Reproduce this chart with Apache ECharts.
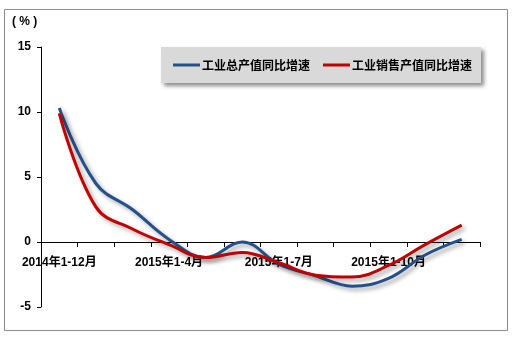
<!DOCTYPE html>
<html>
<head>
<meta charset="utf-8">
<script src="https://cdn.jsdelivr.net/npm/echarts@6/dist/echarts.min.js"></script>
<style>
  html, body { margin: 0; padding: 0; background: #fff; }
  #chart { width: 515px; height: 337px; }
</style>
</head>
<body>
<div id="chart"></div>
<script>
// Year-to-date periods
var categories = ['2014年1-12月', '2015年1-2月', '2015年1-3月', '2015年1-4月', '2015年1-5月', '2015年1-6月',
                  '2015年1-7月', '2015年1-8月', '2015年1-9月', '2015年1-10月', '2015年1-11月', '2015年1-12月'];
// Year-on-year growth, %
var grossOutput = [10.3, 4.5, 2.5, 0.2, -1.2, 0.0, -1.7, -2.6, -3.4, -2.8, -1.0, 0.2];
var salesOutput = [9.9, 2.7, 1.0, -0.2, -1.2, -0.8, -1.6, -2.55, -2.7, -1.8, -0.2, 1.3];
var seriesNames = ['工业总产值同比增速', '工业销售产值同比增速'];
var yTicks = { min: -5, max: 15, interval: 5 };

var font = '"Liberation Sans", Arial, "Noto Sans CJK SC", sans-serif';
var gridTop = 47, gridBottom = 30, chartHeight = 337;
// distance of the zero line above the bottom edge of the plot area
var plotHeight = chartHeight - gridTop - gridBottom;
var zeroFromBottom = plotHeight * (0 - yTicks.min) / (yTicks.max - yTicks.min);

var chart = echarts.init(document.getElementById('chart'), null, { renderer: 'canvas' });

function lineSeries(name, data, color) {
  return {
    name: name,
    type: 'line',
    data: data,
    smooth: 0.4,
    symbol: 'none',
    lineStyle: {
      color: color,
      width: 3,
      shadowColor: 'rgba(0,0,0,0.35)',
      shadowBlur: 4,
      shadowOffsetX: 3,
      shadowOffsetY: 3
    },
    itemStyle: { color: color },
    z: 3
  };
}

chart.setOption({
  animation: false,
  backgroundColor: '#fff',
  textStyle: { fontFamily: font },
  grid: { left: 41, right: 35, top: gridTop, bottom: gridBottom, containLabel: false },
  legend: {
    left: 161,
    top: 47,
    padding: [12, 9, 12, 12],
    itemGap: 13,
    itemWidth: 27,
    itemHeight: 3,
    icon: 'rect',
    backgroundColor: '#D9D9D9',
    shadowColor: 'rgba(0,0,0,0.45)',
    shadowBlur: 4,
    shadowOffsetX: 3,
    shadowOffsetY: 3,
    textStyle: { color: '#000', fontSize: 12, fontWeight: 'bold', fontFamily: '"Noto Sans CJK SC", sans-serif', padding: [0, 0, 0, -3] },
    data: seriesNames
  },
  graphic: [
    {
      type: 'rect',
      shape: { x: 4.5, y: 9.5, width: 503, height: 321 },
      style: { fill: 'none', stroke: '#8c8c8c', lineWidth: 1 },
      silent: true
    },
    {
      type: 'text',
      left: 12,
      top: 16,
      style: { text: '( % )', fill: '#000', font: 'bold 12px ' + font }
    }
  ],
  xAxis: {
    type: 'category',
    data: categories,
    boundaryGap: true,
    position: 'bottom',
    offset: -zeroFromBottom,
    axisLine: { onZero: false, lineStyle: { color: '#000', width: 1 } },
    axisTick: { show: true, interval: 0, length: 5, lineStyle: { color: '#000' } },
    axisLabel: {
      interval: 2,
      margin: 15,
      color: '#000',
      fontSize: 12,
      fontWeight: 'bold',
      fontFamily: font
    },
    splitLine: { show: false }
  },
  yAxis: {
    type: 'value',
    min: yTicks.min,
    max: yTicks.max,
    interval: yTicks.interval,
    axisLine: { show: true, lineStyle: { color: '#000', width: 1 } },
    axisTick: { show: true, length: 4, lineStyle: { color: '#000' } },
    axisLabel: { color: '#000', fontSize: 12, fontWeight: 'bold', margin: 10, fontFamily: font },
    splitLine: { show: false }
  },
  series: [
    lineSeries(seriesNames[0], grossOutput, '#25508A'),
    lineSeries(seriesNames[1], salesOutput, '#C00000')
  ]
});
</script>
</body>
</html>
